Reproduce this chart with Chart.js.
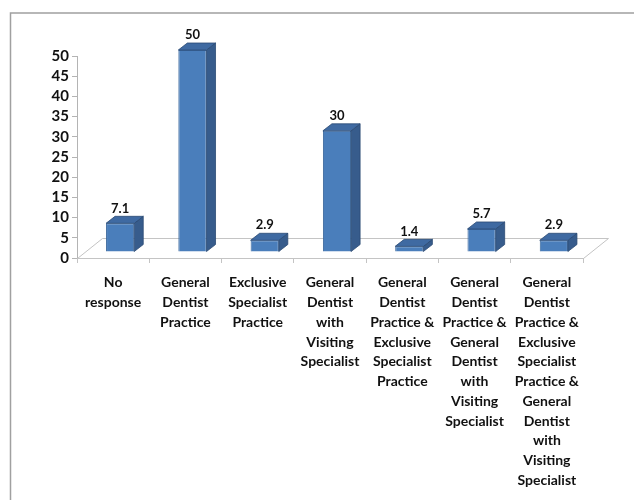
<!DOCTYPE html>
<html>
<head>
<meta charset="utf-8">
<script src="https://cdn.jsdelivr.net/npm/chart.js@4/dist/chart.umd.min.js"></script>
<style>
  html, body { margin: 0; padding: 0; background: #fff; overflow: hidden; }
</style>
</head>
<body>
<canvas id="chart" width="634" height="500"></canvas>
<script>
'use strict';

// categories, one array of lines per bar
var categories = [
  ['No', 'response'],
  ['General', 'Dentist', 'Practice'],
  ['Exclusive', 'Specialist', 'Practice'],
  ['General', 'Dentist', 'with', 'Visiting', 'Specialist'],
  ['General', 'Dentist', 'Practice &', 'Exclusive', 'Specialist', 'Practice'],
  ['General', 'Dentist', 'Practice &', 'General', 'Dentist', 'with', 'Visiting', 'Specialist'],
  ['General', 'Dentist', 'Practice &', 'Exclusive', 'Specialist', 'Practice &', 'General', 'Dentist', 'with', 'Visiting', 'Specialist']
];
var values = [7.1, 50, 2.9, 30, 1.4, 5.7, 2.9];
var valueLabels = ['7.1', '50', '2.9', '30', '1.4', '5.7', '2.9'];
var Y_MAX = 50;
var Y_STEP = 5;

// fake 3d offsets (pixels)
var FLOOR_DX = 25, FLOOR_DY = -20;
var BAR_DX = 7, BAR_DY = -6;
var SIDE_DX = 9, SIDE_DY = -7;

var FONT = 'Lato, "Open Sans", sans-serif';

var threeD = {
  id: 'threeD',
  beforeDraw: function(chart) {
    var ctx = chart.ctx;
    var a = chart.chartArea;
    var y0 = Math.round(chart.scales.y.getPixelForValue(0)) + 0.5;
    var l = a.left + 0.5, r = a.right + 0.5;

    ctx.save();
    ctx.fillStyle = '#fff';
    ctx.fillRect(0, 0, chart.width, chart.height);

    // outer frame, only top and left show
    ctx.strokeStyle = '#a0a0a0';
    ctx.lineWidth = 1.5;
    ctx.beginPath();
    ctx.moveTo(10.5, chart.height);
    ctx.lineTo(10.5, 13);
    ctx.lineTo(chart.width, 13);
    ctx.stroke();

    // floor
    ctx.strokeStyle = '#c4c4c4';
    ctx.lineWidth = 1;
    ctx.beginPath();
    ctx.moveTo(l, y0);
    ctx.lineTo(l + FLOOR_DX, y0 + FLOOR_DY);
    ctx.lineTo(r + FLOOR_DX, y0 + FLOOR_DY);
    ctx.lineTo(r, y0);
    ctx.stroke();
    ctx.restore();
  },
  beforeDatasetsDraw: function(chart) {
    chart.ctx.save();
    chart.ctx.translate(BAR_DX, BAR_DY);
  },
  afterDatasetsDraw: function(chart) {
    var ctx = chart.ctx;
    var meta = chart.getDatasetMeta(0);

    meta.data.forEach(function(bar) {
      var p = bar.getProps(['x', 'y', 'base', 'width'], true);
      var left = p.x - p.width / 2;
      var right = p.x + p.width / 2;

      // side face
      ctx.fillStyle = '#375c8c';
      ctx.strokeStyle = '#2b4a73';
      ctx.lineWidth = 0.8;
      ctx.beginPath();
      ctx.moveTo(right, p.y);
      ctx.lineTo(right + SIDE_DX, p.y + SIDE_DY);
      ctx.lineTo(right + SIDE_DX, p.base + SIDE_DY);
      ctx.lineTo(right, p.base);
      ctx.closePath();
      ctx.fill();
      ctx.stroke();

      // top face
      ctx.fillStyle = '#3f6aa2';
      ctx.beginPath();
      ctx.moveTo(left, p.y);
      ctx.lineTo(left + SIDE_DX, p.y + SIDE_DY);
      ctx.lineTo(right + SIDE_DX, p.y + SIDE_DY);
      ctx.lineTo(right, p.y);
      ctx.closePath();
      ctx.fill();
      ctx.stroke();
    });
    ctx.restore();

    // value labels
    ctx.save();
    ctx.fillStyle = '#111';
    ctx.font = 'bold 13px ' + FONT;
    ctx.textAlign = 'center';
    ctx.textBaseline = 'middle';
    meta.data.forEach(function(bar, i) {
      var p = bar.getProps(['x', 'y'], true);
      ctx.fillText(valueLabels[i], p.x + BAR_DX, p.y + BAR_DY - 15);
    });
    ctx.restore();
  }
};

var ctx = document.getElementById('chart').getContext('2d');

var myChart = new Chart(ctx, {
  type: 'bar',
  data: {
    labels: categories,
    datasets: [{
      data: values,
      backgroundColor: '#4a7ebb',
      borderColor: '#3a679c',
      borderWidth: 1,
      barPercentage: 0.39,
      categoryPercentage: 1,
      clip: false
    }]
  },
  options: {
    responsive: false,
    devicePixelRatio: 1,
    animation: false,
    layout: { padding: { top: 56, right: 51, left: 0, bottom: 0 } },
    plugins: {
      legend: { display: false },
      tooltip: { enabled: false }
    },
    scales: {
      y: {
        min: 0,
        max: Y_MAX,
        ticks: {
          stepSize: Y_STEP,
          autoSkip: false,
          color: '#111',
          padding: 3,
          font: { family: FONT, size: 15, weight: 'bold' }
        },
        grid: { drawOnChartArea: false, tickLength: 5, color: '#b4b4b4' },
        border: { color: '#b4b4b4' },
        afterFit: function(scale) { scale.width = 77; }
      },
      x: {
        ticks: {
          maxRotation: 0,
          autoSkip: false,
          color: '#111',
          padding: 10,
          font: { family: FONT, size: 14, weight: 'bold', lineHeight: 1.41 }
        },
        grid: { drawOnChartArea: false, tickLength: 5, color: '#c4c4c4', offset: true },
        border: { color: '#c4c4c4' },
        afterFit: function(scale) { scale.height = 242; }
      }
    }
  },
  plugins: [threeD]
});
</script>
</body>
</html>
